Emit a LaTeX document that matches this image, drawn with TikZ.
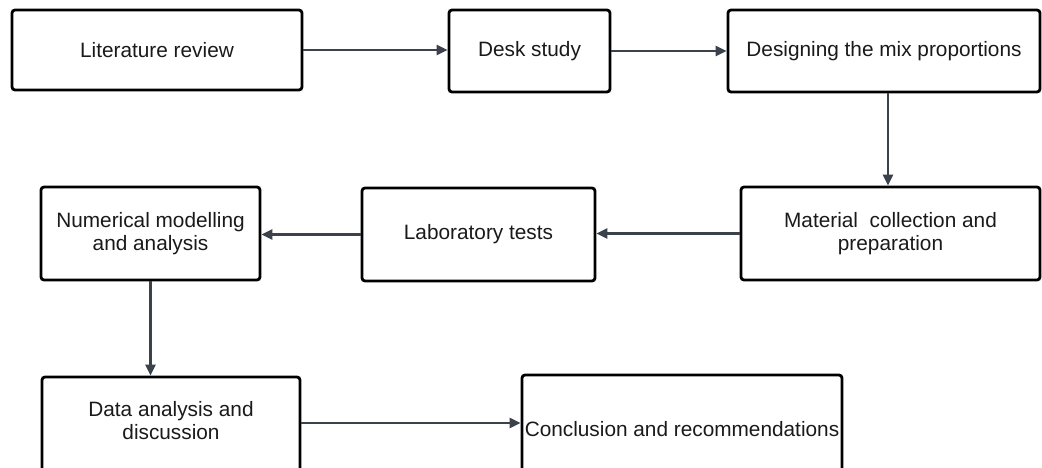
\documentclass[tikz,border=0pt]{standalone}
\usepackage{fontspec}
\setmainfont{Liberation Sans}
\usetikzlibrary{arrows.meta,calc}
\definecolor{inkline}{HTML}{3C424C}
\definecolor{inktext}{HTML}{1A1A1A}
\tikzset{
  stepbox/.style={draw=black, line width=2.8pt, rounded corners=3pt,
    fill=white, align=center, text=inktext, inner sep=2pt,
    font=\fontsize{20.8}{23}\selectfont},
  flow/.style={draw=inkline, line width=2.6pt,
    -{Triangle[length=11pt,width=10pt]}}
}
\begin{document}
\begin{tikzpicture}[x=1pt,y=-1pt]
  \useasboundingbox (0,0) rectangle (1042,468);
  \fill[white] (0,0) rectangle (1042,468);
  \clip (0,0) rectangle (1042,468);

  % first row
  \node[stepbox, minimum width=290, minimum height=80] (lit) at (157,50) {Literature review};
  \node[stepbox, minimum width=161, minimum height=82] (desk) at (529.5,51) {Desk study};
  \node[stepbox, minimum width=312, minimum height=82] (mix) at (884,51) {Designing the mix proportions};

  % second row
  \node[stepbox, minimum width=299, minimum height=93] (mat) at (890.5,233.5) {Material\ \ collection and\\preparation};
  \node[stepbox, minimum width=233, minimum height=93] (lab) at (478.5,234.5) {Laboratory tests};
  \node[stepbox, minimum width=219, minimum height=93] (num) at (150.5,233.5) {Numerical modelling\\and analysis};

  % third row (both boxes run past the lower edge)
  \node[stepbox, minimum width=258, minimum height=100] (data) at (171,427) {Data analysis and\\discussion\\[-10pt]\mbox{}};
  \node[stepbox, minimum width=320, minimum height=108, inner sep=1pt] (conc) at (682,429) {Conclusion and recommendations};

  % connectors
  \draw[flow] (lit.east) -- (lit.east -| desk.west);
  \draw[flow] (desk.east) -- (mix.west);
  \draw[flow] ($(mix.south)+(4,0)$) coordinate (mixout) -- (mixout |- mat.north);
  \draw[flow] (mat.west) -- (mat.west -| lab.east);
  \draw[flow] (lab.west) -- (lab.west -| num.east);
  \draw[flow] (num.south) -- (num.south |- data.north);
  \draw[flow] ($(data.east)+(0,-4)$) coordinate (dataout) -- (dataout -| conc.west);
\end{tikzpicture}
\end{document}
